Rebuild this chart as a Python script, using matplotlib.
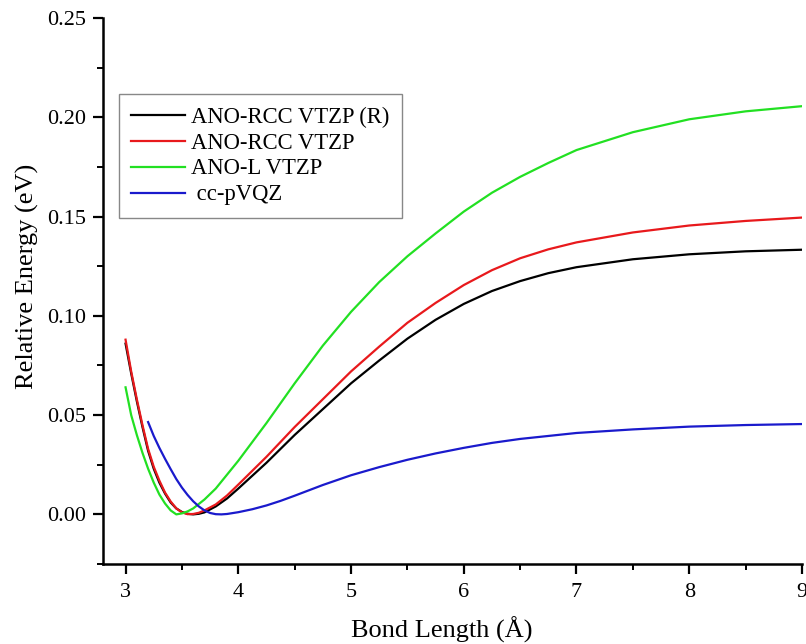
import matplotlib
matplotlib.use("Agg")
import matplotlib.pyplot as plt
from matplotlib.ticker import MultipleLocator, FormatStrFormatter

# Bond length (Å) and relative energies (eV)
x_black = [3.0, 3.05, 3.1, 3.15, 3.2, 3.25, 3.3, 3.35, 3.4, 3.45, 3.5, 3.55, 3.6, 3.65, 3.7, 3.8, 3.9,
           4.0, 4.25, 4.5, 4.75, 5.0, 5.25, 5.5, 5.75, 6.0, 6.25, 6.5, 6.75, 7.0, 7.5, 8.0, 8.5, 9.0]
y_black = [0.086, 0.071, 0.057, 0.044, 0.032, 0.023, 0.016, 0.0105, 0.006, 0.003, 0.0012, 0.0003, 0.0, 0.0003, 0.001, 0.004, 0.008,
           0.013, 0.026, 0.040, 0.053, 0.066, 0.0775, 0.0885, 0.098, 0.106, 0.1125, 0.1175, 0.1215, 0.1245, 0.1285, 0.131, 0.1325, 0.1333]

x_red = [3.0, 3.05, 3.1, 3.15, 3.2, 3.25, 3.3, 3.35, 3.4, 3.45, 3.5, 3.55, 3.6, 3.65, 3.7, 3.8, 3.9,
         4.0, 4.25, 4.5, 4.75, 5.0, 5.25, 5.5, 5.75, 6.0, 6.25, 6.5, 6.75, 7.0, 7.5, 8.0, 8.5, 9.0]
y_red = [0.088, 0.072, 0.058, 0.045, 0.033, 0.024, 0.017, 0.011, 0.0065, 0.003, 0.001, 0.0001, 0.0002, 0.0008, 0.002, 0.005, 0.0095,
         0.015, 0.029, 0.044, 0.058, 0.072, 0.0845, 0.0965, 0.1065, 0.1155, 0.123, 0.129, 0.1335, 0.137, 0.142, 0.1455, 0.1478, 0.1495]

x_green = [3.0, 3.05, 3.1, 3.15, 3.2, 3.25, 3.3, 3.35, 3.4, 3.45, 3.5, 3.55, 3.6, 3.7, 3.8, 3.9,
           4.0, 4.25, 4.5, 4.75, 5.0, 5.25, 5.5, 5.75, 6.0, 6.25, 6.5, 6.75, 7.0, 7.5, 8.0, 8.5, 9.0]
y_green = [0.064, 0.050, 0.040, 0.031, 0.023, 0.016, 0.010, 0.0055, 0.002, 0.0, 0.0005, 0.0015, 0.003, 0.0075, 0.013, 0.020,
           0.027, 0.046, 0.066, 0.085, 0.102, 0.117, 0.130, 0.1415, 0.1525, 0.162, 0.170, 0.177, 0.1835, 0.1925, 0.199, 0.203, 0.2056]

x_blue = [3.2, 3.25, 3.3, 3.35, 3.4, 3.45, 3.5, 3.55, 3.6, 3.65, 3.7, 3.75, 3.8, 3.85, 3.9,
          4.0, 4.125, 4.25, 4.375, 4.5, 4.75, 5.0, 5.25, 5.5, 5.75, 6.0, 6.25, 6.5, 6.75, 7.0, 7.5, 8.0, 8.5, 9.0]
y_blue = [0.0465, 0.0395, 0.0335, 0.028, 0.0228, 0.0178, 0.0135, 0.0098, 0.0066, 0.004, 0.002, 0.0007, 0.0001, 0.0, 0.0002,
          0.0011, 0.0026, 0.0045, 0.0068, 0.0094, 0.0148, 0.0197, 0.0238, 0.0275, 0.0307, 0.0335, 0.036, 0.038, 0.0395, 0.041, 0.0428, 0.0442, 0.045, 0.0455]

labels = ["ANO-RCC VTZP (R)", "ANO-RCC VTZP", "ANO-L VTZP", " cc-pVQZ"]
colors = ["#000000", "#e8191c", "#22e022", "#1a1acc"]

plt.rcParams['font.family'] = ['Liberation Serif', 'DejaVu Serif']

fig = plt.figure(figsize=(8.06, 6.44), dpi=100)
ax = fig.add_axes([0.1278, 0.1242, 0.8672, 0.8478])

series = [(x_black, y_black), (x_red, y_red), (x_green, y_green), (x_blue, y_blue)]
for (xs, ys), lab, col in zip(series, labels, colors):
    ax.plot(xs, ys, color=col, lw=1.6, label=lab, solid_joinstyle='round')

ax.set_xlim(2.8, 9.0)
ax.set_ylim(-0.025, 0.25)
ax.xaxis.set_major_locator(MultipleLocator(1))
ax.xaxis.set_minor_locator(MultipleLocator(0.5))
ax.yaxis.set_major_locator(MultipleLocator(0.05))
ax.yaxis.set_minor_locator(MultipleLocator(0.025))
ax.yaxis.set_major_formatter(FormatStrFormatter('%.2f'))

for s in ['top', 'right']:
    ax.spines[s].set_visible(False)
for s in ['left', 'bottom']:
    ax.spines[s].set_linewidth(1.8)

ax.tick_params(which='major', direction='out', length=7, width=1.6, labelsize=16)
ax.tick_params(axis='x', which='major', pad=7)
ax.tick_params(axis='y', which='major', pad=5)
ax.tick_params(which='minor', direction='out', length=4, width=1.4)

ax.set_xlabel("Bond Length (Å)", fontsize=19, labelpad=10, x=0.485)
ax.set_ylabel("Relative Energy (eV)", fontsize=19, labelpad=6, y=0.527)

leg = ax.legend(loc='upper left', bbox_to_anchor=(0.0229, 0.861), fontsize=16.3,
                frameon=True, fancybox=False, edgecolor='#888888', framealpha=1,
                handlelength=2.35, handletextpad=0.3, borderpad=0.55, labelspacing=0.22,
                borderaxespad=0)
leg.get_frame().set_linewidth(1.0)

fig.savefig("out.png", dpi=100)
